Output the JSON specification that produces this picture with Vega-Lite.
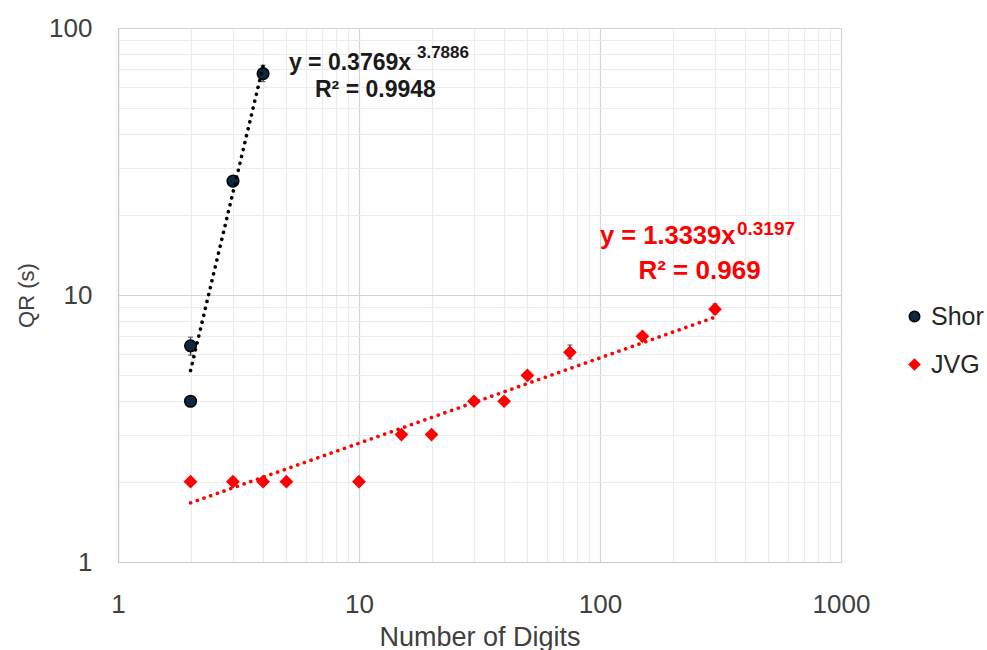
{
  "$schema": "https://vega.github.io/schema/vega-lite/v6.json",
  "width": 723,
  "height": 534,
  "autosize": {"type": "none"},
  "padding": {"left": 118, "top": 28, "right": 146, "bottom": 88},
  "background": "white",
  "config": {
    "view": {"stroke": null},
    "font": "Liberation Sans",
    "axis": {
      "labelFont": "Liberation Sans",
      "titleFont": "Liberation Sans",
      "labelColor": "#404040",
      "titleColor": "#404040",
      "titleFontWeight": "normal",
      "ticks": false,
      "tickSize": 0,
      "labelFlush": false,
      "labelOverlap": false,
      "labelBound": false,
      "domainColor": "#c8c8c8",
      "domainWidth": 1.2
    },
    "legend": {
      "labelFont": "Liberation Sans",
      "labelColor": "#262626"
    }
  },
  "datasets": {
    "points": [
      {"series": "Shor", "digits": 2, "qr": 4},
      {"series": "Shor", "digits": 2, "qr": 6.45},
      {"series": "Shor", "digits": 3, "qr": 26.7},
      {"series": "Shor", "digits": 4, "qr": 67.5},
      {"series": "JVG", "digits": 2, "qr": 2},
      {"series": "JVG", "digits": 3, "qr": 2},
      {"series": "JVG", "digits": 4, "qr": 2},
      {"series": "JVG", "digits": 5, "qr": 2},
      {"series": "JVG", "digits": 10, "qr": 2},
      {"series": "JVG", "digits": 15, "qr": 3},
      {"series": "JVG", "digits": 20, "qr": 3},
      {"series": "JVG", "digits": 30, "qr": 4},
      {"series": "JVG", "digits": 40, "qr": 4},
      {"series": "JVG", "digits": 50, "qr": 5},
      {"series": "JVG", "digits": 75, "qr": 6.1},
      {"series": "JVG", "digits": 150, "qr": 7},
      {"series": "JVG", "digits": 300, "qr": 8.85}
    ],
    "errors": [
      {"series": "Shor", "digits": 2, "lo": 5.95, "hi": 6.95},
      {"series": "Shor", "digits": 4, "lo": 63, "hi": 72.5},
      {"series": "JVG", "digits": 75, "lo": 5.76, "hi": 6.5},
      {"series": "JVG", "digits": 300, "lo": 8.5, "hi": 9.25}
    ],
    "trend": [
      {"series": "Shor", "digits": 2, "qr": 5.21},
      {"series": "Shor", "digits": 4, "qr": 72},
      {"series": "JVG", "digits": 2, "qr": 1.665},
      {"series": "JVG", "digits": 300, "qr": 8.26}
    ]
  },
  "layer": [
    {
      "data": {"name": "errors"},
      "mark": {"type": "errorbar", "ticks": true, "color": "#333333", "thickness": 1.2},
      "encoding": {
        "x": {
          "field": "digits", "type": "quantitative",
          "scale": {"type": "log", "domain": [1, 1000], "nice": false},
          "axis": {
            "values": [1,2,3,4,5,6,7,8,9,10,20,30,40,50,60,70,80,90,100,200,300,400,500,600,700,800,900,1000],
            "format": "d",
            "labelExpr": "(datum.value == 1 || datum.value == 10 || datum.value == 100 || datum.value == 1000) ? datum.label : ''",
            "gridColor": {"condition": {"test": "datum.value == 1 || datum.value == 10 || datum.value == 100 || datum.value == 1000", "value": "#d4d4d4"}, "value": "#ececec"},
            "gridWidth": 1.2,
            "labelFontSize": 26,
            "labelPadding": 29,
            "title": "Number of Digits",
            "titleFontSize": 27,
            "titlePadding": 7
          }
        },
        "y": {
          "field": "lo", "type": "quantitative",
          "scale": {"type": "log", "domain": [1, 100], "nice": false},
          "axis": {
            "values": [1,2,3,4,5,6,7,8,9,10,20,30,40,50,60,70,80,90,100],
            "format": "d",
            "labelExpr": "(datum.value == 1 || datum.value == 10 || datum.value == 100) ? datum.label : ''",
            "gridColor": {"condition": {"test": "datum.value == 1 || datum.value == 10 || datum.value == 100", "value": "#d4d4d4"}, "value": "#ececec"},
            "gridWidth": 1.2,
            "labelFontSize": 26,
            "labelPadding": 26,
            "title": "QR (s)",
            "titleFontSize": 22,
            "titlePadding": 10
          }
        },
        "y2": {"field": "hi"}
      }
    },
    {
      "data": {"name": "points"},
      "mark": {"type": "point", "filled": true, "size": 135, "strokeWidth": 1.5, "opacity": 1},
      "encoding": {
        "x": {"field": "digits", "type": "quantitative"},
        "y": {"field": "qr", "type": "quantitative"},
        "fill": {
          "field": "series", "type": "nominal",
          "scale": {"domain": ["Shor", "JVG"], "range": ["#0E2841", "#FF0000"]},
          "legend": {
            "title": null,
            "orient": "none",
            "legendX": 784,
            "legendY": 276,
            "labelFontSize": 25,
            "symbolSize": 110,
            "symbolStrokeWidth": 1.5,
            "rowPadding": 22,
            "labelOffset": 4,
            "padding": 0
          }
        },
        "stroke": {
          "field": "series", "type": "nominal",
          "scale": {"domain": ["Shor", "JVG"], "range": ["#000000", "#FF0000"]},
          "legend": {
            "title": null,
            "orient": "none",
            "legendX": 784,
            "legendY": 276,
            "labelFontSize": 25,
            "symbolSize": 110,
            "symbolStrokeWidth": 1.5,
            "rowPadding": 22,
            "labelOffset": 4,
            "padding": 0
          }
        },
        "shape": {
          "field": "series", "type": "nominal",
          "scale": {"domain": ["Shor", "JVG"], "range": ["circle", "diamond"]},
          "legend": {
            "title": null,
            "orient": "none",
            "legendX": 784,
            "legendY": 276,
            "labelFontSize": 25,
            "symbolSize": 110,
            "symbolStrokeWidth": 1.5,
            "rowPadding": 22,
            "labelOffset": 4,
            "padding": 0
          }
        }
      }
    },
    {
      "data": {"name": "trend"},
      "mark": {"type": "line", "strokeDash": [0.1, 7], "strokeCap": "round", "strokeWidth": 3.6},
      "encoding": {
        "x": {"field": "digits", "type": "quantitative"},
        "y": {"field": "qr", "type": "quantitative"},
        "color": {
          "field": "series", "type": "nominal",
          "scale": {"domain": ["Shor", "JVG"], "range": ["#000000", "#FF0000"]},
          "legend": null
        }
      }
    },
    {
      "data": {"values": [{"digits": 5.12, "qr": 69.6, "label": "y = 0.3769x"}]},
      "mark": {"type": "text", "align": "left", "baseline": "alphabetic", "fontSize": 23, "fontWeight": "bold", "color": "#1a1a1a"},
      "encoding": {
        "x": {"field": "digits", "type": "quantitative"},
        "y": {"field": "qr", "type": "quantitative"},
        "text": {"field": "label"}
      }
    },
    {
      "data": {"values": [{"digits": 17.4, "qr": 77.5, "label": "3.7886"}]},
      "mark": {"type": "text", "align": "left", "baseline": "alphabetic", "fontSize": 17, "fontWeight": "bold", "color": "#1a1a1a"},
      "encoding": {
        "x": {"field": "digits", "type": "quantitative"},
        "y": {"field": "qr", "type": "quantitative"},
        "text": {"field": "label"}
      }
    },
    {
      "data": {"values": [{"digits": 11.7, "qr": 55.1, "label": "R² = 0.9948"}]},
      "mark": {"type": "text", "align": "center", "baseline": "alphabetic", "fontSize": 23, "fontWeight": "bold", "color": "#1a1a1a"},
      "encoding": {
        "x": {"field": "digits", "type": "quantitative"},
        "y": {"field": "qr", "type": "quantitative"},
        "text": {"field": "label"}
      }
    },
    {
      "data": {"values": [{"digits": 100, "qr": 15.5, "label": "y = 1.3339x"}]},
      "mark": {"type": "text", "align": "left", "baseline": "alphabetic", "fontSize": 25.5, "fontWeight": "bold", "color": "#FF0000"},
      "encoding": {
        "x": {"field": "digits", "type": "quantitative"},
        "y": {"field": "qr", "type": "quantitative"},
        "text": {"field": "label"}
      }
    },
    {
      "data": {"values": [{"digits": 370, "qr": 16.8, "label": "0.3197"}]},
      "mark": {"type": "text", "align": "left", "baseline": "alphabetic", "fontSize": 19, "fontWeight": "bold", "color": "#FF0000"},
      "encoding": {
        "x": {"field": "digits", "type": "quantitative"},
        "y": {"field": "qr", "type": "quantitative"},
        "text": {"field": "label"}
      }
    },
    {
      "data": {"values": [{"digits": 258.8, "qr": 11.48, "label": "R² = 0.969"}]},
      "mark": {"type": "text", "align": "center", "baseline": "alphabetic", "fontSize": 26, "fontWeight": "bold", "color": "#FF0000"},
      "encoding": {
        "x": {"field": "digits", "type": "quantitative"},
        "y": {"field": "qr", "type": "quantitative"},
        "text": {"field": "label"}
      }
    }
  ]
}
